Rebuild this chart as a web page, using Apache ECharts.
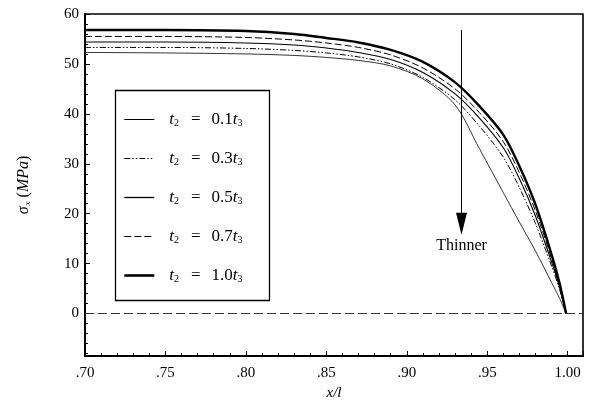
<!DOCTYPE html>
<html><head><meta charset="utf-8">
<script src="https://cdn.jsdelivr.net/npm/echarts@6/dist/echarts.min.js"></script>
<style>html,body{margin:0;padding:0;background:#fff}#c{width:591px;height:406px}</style>
</head><body><div id="c"></div>
<script>
// x/l positions
var xPos = [0.70, 0.75, 0.80, 0.83, 0.85, 0.87, 0.89, 0.91, 0.93, 0.945, 0.96, 0.97, 0.98, 0.99, 0.995, 0.999];
// sigma_x (MPa) for each thickness ratio
var s01 = [52.3, 52.2, 52.0, 51.7, 51.3, 50.7, 49.6, 47.0, 41.8, 33.1, 24.2, 18.3, 12.5, 6.2, 3.0, 0];
var s03 = [53.3, 53.3, 53.1, 52.7, 52.2, 51.4, 50.0, 47.3, 42.8, 37.6, 31.3, 25.2, 18.0, 9.5, 4.8, 0];
var s05 = [54.4, 54.4, 54.2, 53.8, 53.2, 52.3, 50.9, 48.3, 44.0, 39.2, 33.2, 27.0, 19.5, 10.3, 5.2, 0];
var s07 = [55.5, 55.5, 55.3, 54.8, 54.2, 53.3, 51.8, 49.2, 45.0, 40.3, 34.4, 28.2, 20.5, 11.0, 5.6, 0];
var s10 = [56.8, 56.8, 56.6, 56.0, 55.2, 54.3, 52.8, 50.4, 46.3, 41.6, 35.8, 29.5, 21.8, 11.8, 6.0, 0];
var seriesNames = ['0.1', '0.3', '0.5', '0.7', '1.0'];
var xTickLabels = ['.70', '.75', '.80', '.85', '.90', '.95', '1.00'];
var arrowX = 0.934, arrowTop = 56.8, arrowEnd = 18.0;

function pairs(v) { return xPos.map(function (x, i) { return [x, v[i]]; }); }
var FONT = '"Liberation Serif", "DejaVu Serif", serif';
var styles = [
  {width: 0.8, type: 'solid'},
  {width: 1, type: [6, 2, 1.5, 2, 1.5, 2]},
  {width: 1.1, type: 'solid'},
  {width: 1, type: [7, 3]},
  {width: 2.4, type: 'solid'}
];
var data = [s01, s03, s05, s07, s10];
var series = data.map(function (v, i) {
  return {
    name: seriesNames[i], type: 'line', data: pairs(v), smooth: 0.3,
    symbol: 'none', showSymbol: false,
    lineStyle: {color: '#000', width: styles[i].width, type: styles[i].type},
    itemStyle: {color: '#000'}, z: 3
  };
});
series[0].markLine = {
  silent: true, symbol: ['none', 'none'],
  lineStyle: {color: '#333', width: 1, type: [9, 4]},
  label: {show: false},
  data: [{yAxis: 0}]
};
series[4].markLine = {
  silent: true, symbol: ['none', 'triangle'], symbolSize: [11, 22],
  lineStyle: {color: '#000', width: 1, type: 'solid'},
  label: {show: true, position: 'end', formatter: 'Thinner', color: '#000', fontFamily: FONT, fontSize: 16, distance: 14},
  data: [[{coord: [arrowX, arrowTop]}, {coord: [arrowX, arrowEnd]}]]
};

var legendData = seriesNames.map(function (n, i) {
  return {name: n, itemStyle: {opacity: 0},
    lineStyle: {color: '#000', width: styles[i].width + 0.2, type: styles[i].type}};
});

var chart = echarts.init(document.getElementById('c'), null, {renderer: 'canvas'});
chart.setOption({
  animation: false,
  backgroundColor: '#fff',
  grid: {left: 85, right: 8, top: 14, bottom: 45, show: true, borderColor: '#000', borderWidth: 1.6},
  xAxis: {
    type: 'value', min: 0.70, max: 1.0095, interval: 0.05,
    name: '{i|x/l}', nameLocation: 'middle', nameGap: 30,
    nameTextStyle: {rich: {i: {fontFamily: FONT, fontStyle: 'italic', fontSize: 15, color: '#000'}}},
    axisLine: {onZero: false, lineStyle: {color: '#000', width: 2}},
    axisTick: {inside: true, length: 5, lineStyle: {color: '#000'}},
    minorTick: {show: true, splitNumber: 5, length: 3, lineStyle: {color: '#000'}},
    splitLine: {show: false},
    axisLabel: {
      color: '#000', fontFamily: FONT, fontSize: 15, margin: 10,
      formatter: function (v) { var k = Math.round((v - 0.70) / 0.05); return (v > 1.001) ? '' : (xTickLabels[k] || ''); }
    }
  },
  yAxis: {
    type: 'value', min: -8.5, max: 60, splitNumber: 7,
    name: '{i|σ}{s|x} ({i|MPa})', nameLocation: 'middle', nameGap: 53, nameRotate: 90,
    nameTextStyle: {fontFamily: FONT, fontSize: 16, color: '#000', rich: {
      i: {fontFamily: FONT, fontStyle: 'italic', fontSize: 16, color: '#000'},
      s: {fontFamily: FONT, fontStyle: 'italic', fontSize: 9, color: '#000', verticalAlign: 'bottom', padding: [6, 0, 0, 1]}
    }},
    axisLine: {onZero: false, lineStyle: {color: '#000', width: 2}},
    axisTick: {inside: true, length: 5, lineStyle: {color: '#000'}},
    minorTick: {show: true, splitNumber: 5, length: 3, lineStyle: {color: '#000'}},
    splitLine: {show: false},
    axisLabel: {
      color: '#000', fontFamily: FONT, fontSize: 15, margin: 6,
      formatter: function (v) { return v < -5 ? '' : String(Math.round(v)); }
    }
  },
  legend: {
    orient: 'vertical', left: 118, top: 106, itemWidth: 30, itemHeight: 12, itemGap: 22,
    data: legendData,
    itemStyle: {opacity: 0},
    formatter: function (n) { return '{i|t}{s|2}{e|=}' + n + '{i|t}{s|3}'; },
    textStyle: {color: '#000', fontFamily: FONT, fontSize: 17, padding: [0, 0, 0, 10], rich: {
      i: {fontFamily: FONT, fontStyle: 'italic', fontSize: 17, color: '#000'},
      e: {fontFamily: FONT, fontSize: 17, color: '#000', padding: [0, 11, 0, 12]},
      s: {fontFamily: FONT, fontSize: 10, color: '#000', verticalAlign: 'bottom', padding: [7, 0, 0, 0]}
    }}
  },
  graphic: [{type: 'rect', left: 113, top: 88, shape: {width: 154, height: 210}, style: {fill: 'none', stroke: '#000', lineWidth: 1.3}, z: 10}],
  series: series
});
</script></body></html>
